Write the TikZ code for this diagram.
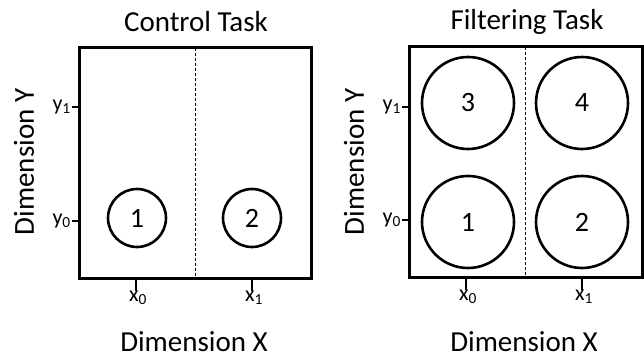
\documentclass[tikz,border=0pt]{standalone}
\usepackage{fontspec}
\setmainfont{Carlito}
\begin{document}
\begin{tikzpicture}[x=1pt,y=-1pt,
  panel/.style={draw,line width=3pt},
  divider/.style={line width=0.9pt,dash pattern=on 3pt off 2pt},
  tick/.style={line width=1.3pt},
  stim/.style={circle,draw,line width=2.6pt,inner sep=0pt,font=\fontsize{28}{32}\selectfont},
  title/.style={font=\fontsize{29}{34}\selectfont},
  axlab/.style={font=\fontsize{29}{34}\selectfont,inner sep=0pt},
  ticklab/.style={font=\fontsize{22}{26}\selectfont,inner sep=1pt}]
\useasboundingbox (0,0) rectangle (644,358);
% ---------- Control panel
\node[title] (t1) at (196,22) {Control Task};
\draw[panel] (79,48) rectangle (311,278);
\coordinate (d1t) at (195,48); \coordinate (d1b) at (195,278);
\draw[divider] (d1t) -- (d1b);
\coordinate (ay1a) at (72,107); \coordinate (ay1b) at (79,107);
\coordinate (ay0a) at (72,221); \coordinate (ay0b) at (79,221);
\draw[tick] (ay1a) -- (ay1b); \draw[tick] (ay0a) -- (ay0b);
\coordinate (ax0a) at (136,278); \coordinate (ax0b) at (136,291);
\coordinate (ax1a) at (252,278); \coordinate (ax1b) at (252,291);
\draw[tick] (ax0a) -- (ax0b); \draw[tick] (ax1a) -- (ax1b);
\node[ticklab,anchor=east] (ly1) at (72,107) {y\textsubscript{1}};
\node[ticklab,anchor=east] (ly0) at (72,221) {y\textsubscript{0}};
\node[ticklab] (lx0) at (138,298) {x\textsubscript{0}};
\node[ticklab] (lx1) at (254,298) {x\textsubscript{1}};
\node[axlab,rotate=90] (dy1) at (24,162) {Dimension Y};
\node[axlab,anchor=base] (dx1) at (194,351) {Dimension X};
\node[stim,minimum size=58pt] (c1a) at (137,218) {1};
\node[stim,minimum size=58pt] (c1b) at (252,218) {2};
% ---------- Filtering panel
\node[title] (t2) at (527,22) {Filtering Task};
\draw[panel] (409,47) rectangle (642,277);
\coordinate (d2t) at (525,47); \coordinate (d2b) at (525,277);
\draw[divider] (d2t) -- (d2b);
\coordinate (by1a) at (402,107); \coordinate (by1b) at (409,107);
\coordinate (by0a) at (402,220); \coordinate (by0b) at (409,220);
\draw[tick] (by1a) -- (by1b); \draw[tick] (by0a) -- (by0b);
\coordinate (bx0a) at (466,277); \coordinate (bx0b) at (466,290);
\coordinate (bx1a) at (582,277); \coordinate (bx1b) at (582,290);
\draw[tick] (bx0a) -- (bx0b); \draw[tick] (bx1a) -- (bx1b);
\node[ticklab,anchor=east] (my1) at (402,107) {y\textsubscript{1}};
\node[ticklab,anchor=east] (my0) at (402,220) {y\textsubscript{0}};
\node[ticklab] (mx0) at (468,297) {x\textsubscript{0}};
\node[ticklab] (mx1) at (584,297) {x\textsubscript{1}};
\node[axlab,rotate=90] (dy2) at (354,162) {Dimension Y};
\node[axlab,anchor=base] (dx2) at (524,351) {Dimension X};
\node[stim,minimum size=92pt] (c2c) at (468,103) {3};
\node[stim,minimum size=92pt] (c2d) at (582,103) {4};
\node[stim,minimum size=92pt] (c2a) at (468,222) {1};
\node[stim,minimum size=92pt] (c2b) at (582,222) {2};
\end{tikzpicture}
\end{document}
